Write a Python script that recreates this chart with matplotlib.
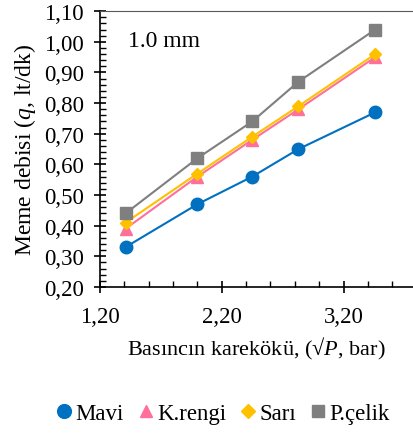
import numpy as np
import matplotlib
matplotlib.use('Agg')
import matplotlib.pyplot as plt
from matplotlib.ticker import MultipleLocator, FuncFormatter

# Veriler
karekok_P = [1.41, 2.00, 2.45, 2.83, 3.46]
mavi = [0.33, 0.47, 0.56, 0.65, 0.77]
k_rengi = [0.39, 0.56, 0.68, 0.78, 0.95]
sari = [0.41, 0.57, 0.69, 0.79, 0.96]
p_celik = [0.44, 0.62, 0.74, 0.87, 1.04]

seriler = ['Mavi', 'K.rengi', 'Sarı', 'P.çelik']
renkler = ['#0070C0', '#FF6F9A', '#FFC000', '#7F7F7F']
isaretler = ['o', '^', 'D', 's']
boyutlar = [9, 8, 6.5, 8.5]

plt.rcParams['font.family'] = 'Liberation Serif'
plt.rcParams['mathtext.fontset'] = 'custom'
plt.rcParams['mathtext.rm'] = 'Liberation Serif'
plt.rcParams['mathtext.it'] = 'Liberation Serif:italic'

fig = plt.figure(figsize=(4.13, 4.35), dpi=100)
ax = fig.add_axes([0.242, 0.338, 0.758, 0.634])

for y, ad, renk, isaret, ms in zip([mavi, k_rengi, sari, p_celik], seriler,
                                   renkler, isaretler, boyutlar):
    ax.plot(karekok_P, y, color=renk, marker=isaret, markersize=ms,
            linewidth=1.5, label=ad)

ax.set_xlim(1.2, 3.77)
ax.set_ylim(0.2, 1.1)
ax.xaxis.set_major_locator(MultipleLocator(1.0, offset=0.2))
ax.xaxis.set_minor_locator(MultipleLocator(0.2))
ax.yaxis.set_major_locator(MultipleLocator(0.1))
ax.yaxis.set_minor_locator(MultipleLocator(0.02))
virgul = FuncFormatter(lambda v, p: f'{v:.2f}'.replace('.', ','))
ax.xaxis.set_major_formatter(virgul)
ax.yaxis.set_major_formatter(virgul)

ax.tick_params(which='major', direction='inout', length=9, width=1.2,
               labelsize=16.5)
ax.tick_params(which='minor', direction='in', length=4.5, width=1.0)
ax.tick_params(axis='x', which='major', pad=9)
ax.tick_params(axis='y', which='major', pad=7)

ax.spines['right'].set_visible(False)
ax.spines['top'].set_color('#595959')
ax.spines['left'].set_linewidth(1.2)
ax.spines['bottom'].set_linewidth(1.2)

ax.set_xlabel('Basıncın karekökü, (√$P$, bar)', fontsize=16, labelpad=6)
ax.set_ylabel('Meme debisi ($q$, lt/dk)', fontsize=17, labelpad=4)

ax.text(0.09, 0.895, '1.0 mm', transform=ax.transAxes, fontsize=17,
        va='center', ha='left')

leg = fig.legend(loc='center', bbox_to_anchor=(0.54, 0.048), ncol=4,
                 frameon=False, fontsize=16.5, handlelength=0.7,
                 handletextpad=0.15, columnspacing=0.6, markerscale=1.1)
for h in leg.legend_handles:
    h.set_linestyle('None')

fig.savefig('out.png', dpi=100)
